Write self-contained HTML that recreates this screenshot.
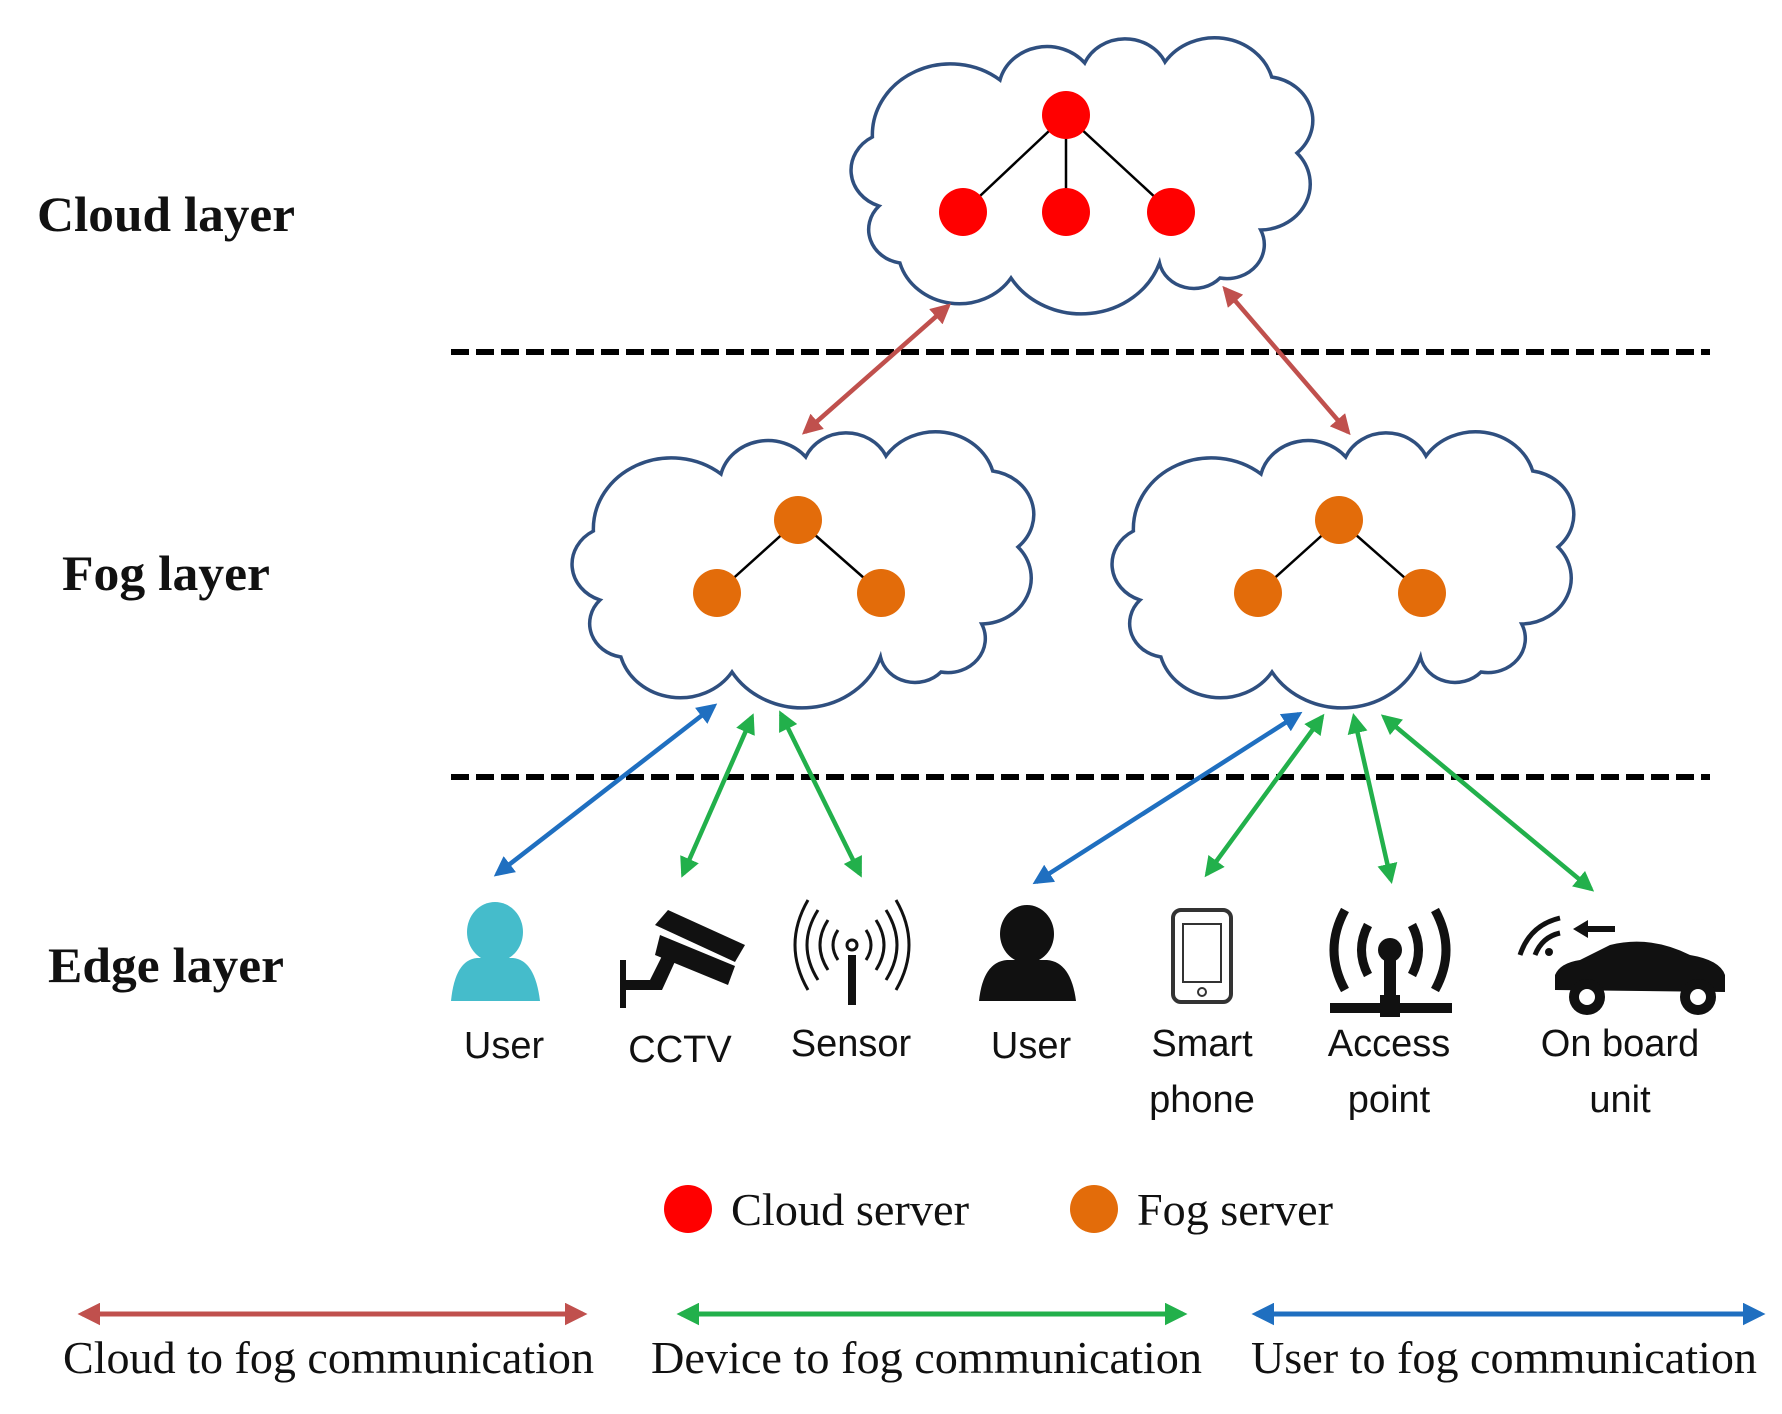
<!DOCTYPE html>
<html><head><meta charset="utf-8"><style>
html,body{margin:0;padding:0;background:#fff;}
svg{display:block;}
.lbl{font-family:"Liberation Serif",serif;font-weight:bold;font-size:50px;fill:#111;}
.ic{font-family:"Liberation Sans",sans-serif;font-size:38px;fill:#111;text-anchor:middle;}
.lg{font-family:"Liberation Serif",serif;font-size:46px;fill:#111;}
</style></head><body>
<svg width="1782" height="1414" viewBox="0 0 1782 1414" xmlns="http://www.w3.org/2000/svg">
<defs>
<path id="cl" d="M50,168 A38,38 0 0 1 44,99 A71,71 0 0 1 160,42 A44,44 0 0 1 237,25 A40,40 0 0 1 310,24 A54,54 0 0 1 407,39 A44,44 0 0 1 430,115 A46,46 0 0 1 397,192 A34,34 0 0 1 360,240 A32,32 0 0 1 305,225 A75,75 0 0 1 170,240 A56,56 0 0 1 69,225 A34,34 0 0 1 50,168 Z" fill="#fff" stroke="#2f4f7f" stroke-width="3.5" vector-effect="non-scaling-stroke"/>
<marker id="mr" viewBox="0 0 10 10" refX="8" refY="5" markerWidth="4.5" markerHeight="4.5" orient="auto-start-reverse"><path d="M0,0 L10,5 L0,10 Z" fill="#c0504d"/></marker>
<marker id="mg" viewBox="0 0 10 10" refX="8" refY="5" markerWidth="4.5" markerHeight="4.5" orient="auto-start-reverse"><path d="M0,0 L10,5 L0,10 Z" fill="#22b04b"/></marker>
<marker id="mb" viewBox="0 0 10 10" refX="8" refY="5" markerWidth="4.5" markerHeight="4.5" orient="auto-start-reverse"><path d="M0,0 L10,5 L0,10 Z" fill="#1f6fc0"/></marker>
</defs>

<text class="lbl" x="37" y="231" textLength="258" lengthAdjust="spacingAndGlyphs">Cloud layer</text>
<text class="lbl" x="62" y="590" textLength="208" lengthAdjust="spacingAndGlyphs">Fog layer</text>
<text class="lbl" x="48" y="982" textLength="236" lengthAdjust="spacingAndGlyphs">Edge layer</text>

<line x1="451" y1="352" x2="1710" y2="352" stroke="#000" stroke-width="6" stroke-dasharray="18,7"/>
<line x1="451" y1="777" x2="1710" y2="777" stroke="#000" stroke-width="6" stroke-dasharray="18,7"/>

<use href="#cl" transform="translate(1088,178) scale(1.1,1.0) translate(-240,-140)"/>
<g stroke="#000" stroke-width="2.5"><line x1="1066" y1="115" x2="963" y2="212"/><line x1="1066" y1="115" x2="1066" y2="212"/><line x1="1066" y1="115" x2="1171" y2="212"/></g>
<g fill="#f00"><circle cx="1066" cy="115" r="24"/><circle cx="963" cy="212" r="24"/><circle cx="1066" cy="212" r="24"/><circle cx="1171" cy="212" r="24"/></g>

<use href="#cl" transform="translate(809,572) scale(1.1,1.0) translate(-240,-140)"/>
<use href="#cl" transform="translate(1349,572) scale(1.1,1.0) translate(-240,-140)"/>
<g stroke="#000" stroke-width="2.5"><line x1="798" y1="520" x2="717" y2="593"/><line x1="798" y1="520" x2="881" y2="593"/><line x1="1339" y1="520" x2="1258" y2="593"/><line x1="1339" y1="520" x2="1422" y2="593"/></g>
<g fill="#e36c0a"><circle cx="798" cy="520" r="24"/><circle cx="717" cy="593" r="24"/><circle cx="881" cy="593" r="24"/><circle cx="1339" cy="520" r="24"/><circle cx="1258" cy="593" r="24"/><circle cx="1422" cy="593" r="24"/></g>

<g stroke-width="4.5" fill="none">
<line x1="948" y1="306" x2="805" y2="432" stroke="#c0504d" marker-start="url(#mr)" marker-end="url(#mr)"/>
<line x1="1225" y1="289" x2="1348" y2="432" stroke="#c0504d" marker-start="url(#mr)" marker-end="url(#mr)"/>
<line x1="714" y1="706" x2="497" y2="874" stroke="#1f6fc0" marker-start="url(#mb)" marker-end="url(#mb)"/>
<line x1="752" y1="717" x2="683" y2="874" stroke="#22b04b" marker-start="url(#mg)" marker-end="url(#mg)"/>
<line x1="781" y1="714" x2="860" y2="874" stroke="#22b04b" marker-start="url(#mg)" marker-end="url(#mg)"/>
<line x1="1299" y1="714" x2="1036" y2="882" stroke="#1f6fc0" marker-start="url(#mb)" marker-end="url(#mb)"/>
<line x1="1322" y1="717" x2="1207" y2="874" stroke="#22b04b" marker-start="url(#mg)" marker-end="url(#mg)"/>
<line x1="1354" y1="717" x2="1391" y2="880" stroke="#22b04b" marker-start="url(#mg)" marker-end="url(#mg)"/>
<line x1="1384" y1="717" x2="1591" y2="889" stroke="#22b04b" marker-start="url(#mg)" marker-end="url(#mg)"/>
</g>

<g fill="#45bccb"><ellipse cx="495" cy="932" rx="28" ry="30"/><path d="M451,1001 Q455,960 477,958 L513,958 Q535,960 540,1001 Z"/></g>
<g fill="#111">
<rect x="620" y="960" width="6" height="48"/>
<path d="M626,980 L650,980 L665,950 L678,955 L662,990 L626,990 Z"/>
<path d="M655,925 L668,910 L745,945 L735,962 Z"/>
<path d="M660,935 L735,966 L728,985 L655,955 Z"/>
<rect x="848" y="955" width="8" height="50"/>
<circle cx="852" cy="945" r="5" fill="none" stroke="#111" stroke-width="3"/>
<g fill="none" stroke="#111" stroke-width="3">
<path d="M838,930 Q828,945 838,960"/><path d="M866,930 Q876,945 866,960"/>
<path d="M828,920 Q812,945 828,970"/><path d="M876,920 Q892,945 876,970"/>
<path d="M818,910 Q796,945 818,980"/><path d="M886,910 Q908,945 886,980"/>
<path d="M808,900 Q782,945 808,990"/><path d="M896,900 Q922,945 896,990"/>
</g>
<ellipse cx="1027" cy="934" rx="27" ry="29"/><path d="M979,1001 Q983,962 1007,960 L1047,960 Q1071,962 1076,1001 Z"/>
<rect x="1173" y="910" width="58" height="92" rx="8" fill="none" stroke="#333" stroke-width="4"/>
<rect x="1183" y="924" width="38" height="58" fill="none" stroke="#333" stroke-width="2"/>
<circle cx="1202" cy="992" r="4" fill="none" stroke="#333" stroke-width="2"/>
<circle cx="1390" cy="950" r="12"/>
<rect x="1384" y="955" width="12" height="45"/>
<rect x="1330" y="1003" width="122" height="10"/>
<rect x="1380" y="995" width="20" height="22"/>
<g fill="none" stroke="#111" stroke-width="9">
<path d="M1368,925 Q1355,950 1368,975"/><path d="M1412,925 Q1425,950 1412,975"/>
<path d="M1345,910 Q1323,950 1345,990"/><path d="M1435,910 Q1457,950 1435,990"/>
</g>
<path d="M1555,990 L1555,975 Q1560,963 1580,960 L1610,945 Q1650,935 1690,955 Q1720,960 1725,975 L1725,992 Z"/>
<circle cx="1587" cy="997" r="18"/><circle cx="1698" cy="997" r="18"/>
<circle cx="1587" cy="997" r="8" fill="#fff"/><circle cx="1698" cy="997" r="8" fill="#fff"/>
<g fill="none" stroke="#111" stroke-width="5">
<path d="M1520,955 Q1530,925 1560,918"/><path d="M1535,955 Q1542,937 1560,933"/>
</g>
<circle cx="1549" cy="952" r="4"/>
<path d="M1573,929 L1588,920 L1588,926 L1615,926 L1615,932 L1588,932 L1588,938 Z"/>
</g>

<text class="ic" x="504" y="1058">User</text>
<text class="ic" x="680" y="1062">CCTV</text>
<text class="ic" x="851" y="1056">Sensor</text>
<text class="ic" x="1031" y="1058">User</text>
<text class="ic" x="1202" y="1056">Smart</text>
<text class="ic" x="1202" y="1112">phone</text>
<text class="ic" x="1389" y="1056">Access</text>
<text class="ic" x="1389" y="1112">point</text>
<text class="ic" x="1620" y="1056">On board</text>
<text class="ic" x="1620" y="1112">unit</text>

<circle cx="688" cy="1209" r="24" fill="#f00"/>
<text class="lg" x="731" y="1225" textLength="238" lengthAdjust="spacingAndGlyphs">Cloud server</text>
<circle cx="1094" cy="1209" r="24" fill="#e36c0a"/>
<text class="lg" x="1137" y="1225" textLength="196" lengthAdjust="spacingAndGlyphs">Fog server</text>

<g stroke-width="5">
<line x1="82" y1="1314" x2="583" y2="1314" stroke="#c0504d" marker-start="url(#mr)" marker-end="url(#mr)"/>
<line x1="681" y1="1314" x2="1183" y2="1314" stroke="#22b04b" marker-start="url(#mg)" marker-end="url(#mg)"/>
<line x1="1256" y1="1314" x2="1761" y2="1314" stroke="#1f6fc0" marker-start="url(#mb)" marker-end="url(#mb)"/>
</g>
<text class="lg" x="63" y="1373" textLength="531" lengthAdjust="spacingAndGlyphs">Cloud to fog communication</text>
<text class="lg" x="651" y="1373" textLength="551" lengthAdjust="spacingAndGlyphs">Device to fog communication</text>
<text class="lg" x="1251" y="1373" textLength="506" lengthAdjust="spacingAndGlyphs">User to fog communication</text>
</svg>
</body></html>
